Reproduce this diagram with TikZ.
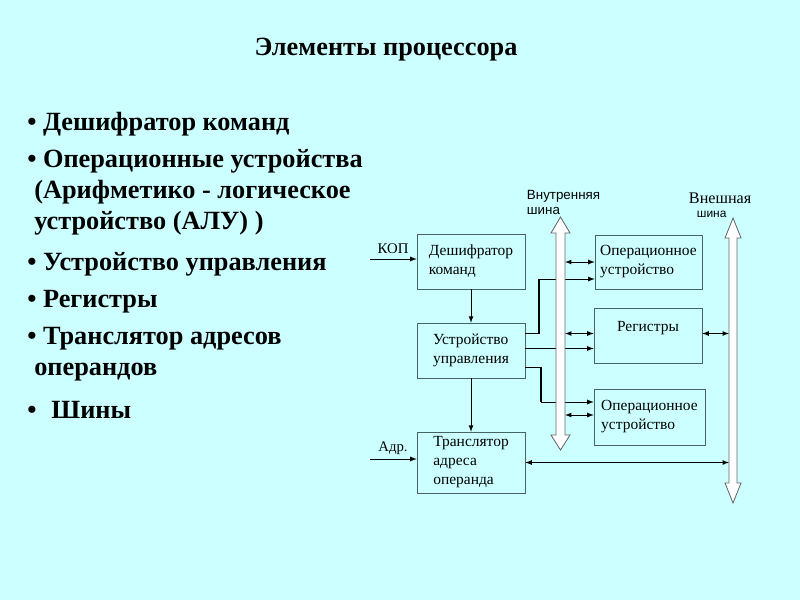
\documentclass[tikz,border=0pt]{standalone}
\usepackage{fontspec}
\setmainfont{Liberation Serif}
\setsansfont{Liberation Sans}
\usetikzlibrary{calc}
\definecolor{bgcyan}{RGB}{204,255,255}
\definecolor{boxline}{RGB}{70,100,100}

\begin{document}
\begin{tikzpicture}[x=0.025cm,y=-0.025cm,>=latex,
  box/.style={draw=boxline,align=left,inner sep=0pt,font=\fontsize{11}{13.5}\selectfont},
  item/.style={anchor=west,align=left,inner sep=0pt,font=\bfseries\fontsize{18.7}{22}\selectfont},
  wire/.style={line width=0.6pt},
  ctl/.style={line width=1.2pt},
  bus/.style={draw=black!60,fill=white,line width=0.6pt}]
\fill[bgcyan] (0,0) rectangle (800,600);
\node[font=\bfseries\fontsize{18.7}{22}\selectfont] (title) at (386,50) {Элементы процессора};
% list
\node[item] (i1) at (27,124) {• Дешифратор команд};
\node[item] (i2) at (27,192) {• Операционные устройства\\\hspace*{5pt}(Арифметико - логическое\\\hspace*{5pt}устройство (АЛУ) )};
\node[item] (i3) at (27,264) {• Устройство управления};
\node[item] (i4) at (27,302) {• Регистры};
\node[item] (i5) at (27,354) {• Транслятор адресов\\\hspace*{5pt}операндов};
\node[item] (i6) at (27,410) {•\hspace{6pt} Шины};
% blocks
\node[box,minimum width=2.7cm,minimum height=1.375cm] (dec) at (471,261.5) {Дешифратор\\команд};
\node[box,minimum width=2.7cm,minimum height=1.375cm] (uu) at (471,350.5) {Устройство\\управления};
\node[box,minimum width=2.7cm,minimum height=1.525cm] (tr) at (471,462.5) {Транслятор\\адреса\\операнда};
\node[box,minimum width=2.675cm,minimum height=1.35cm] (opa) at (648.5,262) {Операционное\\устройство};
\node[box,minimum width=2.7cm,minimum height=1.375cm] (reg) at (648,335.5) {Регистры\\\phantom{x}};
\node[box,minimum width=2.775cm,minimum height=1.4cm] (opb) at (649.5,417) {Операционное\\устройство};
% labels
\node[font=\fontsize{10.5}{12}\selectfont] (kop) at (393,249) {КОП};
\node[font=\fontsize{10.5}{12}\selectfont] (adr) at (393,448) {Адр.};
\node[anchor=west,align=left,font=\sffamily\fontsize{9.5}{10.7}\selectfont] (ibl) at (522,202.5) {Внутренняя\\шина};
\node[anchor=west,font=\fontsize{11.5}{13}\selectfont] (ebl) at (684,198) {Внешная};
\node[anchor=west,font=\sffamily\fontsize{8.5}{10}\selectfont] (ebs) at (692,214) {шина};
% connectors
\coordinate (kopin) at (370,259);
\coordinate (adrin) at (370,459);
\coordinate (ib) at (565,0);
\coordinate (eb) at (729,0);
\coordinate (ja) at (539,279);
\coordinate (jb) at (541,402);
\draw[wire,->] (kopin) -- (kopin -| dec.west);
\draw[wire,->] (adrin) -- (adrin -| tr.west);
\draw[wire,->] (dec) -- (uu);
\draw[wire,->] (uu) -- (tr);
\draw[wire,<->] (opa.west) -- (opa.west -| ib);
\draw[ctl] ($(uu.east)+(0,-17)$) -| (ja);
\draw[wire,->] (ja) -- (ja -| opa.west);
\draw[wire,<->] ($(reg.west)+(0,-2)$) -- ($(reg.west -| ib)+(0,-2)$);
\draw[wire,->] ($(uu.east)+(0,-2)$) -- ($(uu.east -| reg.west)+(0,-2)$);
\draw[ctl] ($(uu.east)+(0,17)$) -| (jb);
\draw[wire,->] (jb) -- (jb -| opb.west);
\draw[wire,<->] ($(opb.west)+(0,-2)$) -- ($(opb.west -| ib)+(0,-2)$);
\draw[wire,<->] ($(reg.east)+(0,-2)$) -- ($(reg.east -| eb)+(0,-2)$);
\draw[wire,<->] (tr.east) -- (tr.east -| eb);
% buses
\draw[bus] (556,233) -- (551,233) -- (560.5,217) -- (570,233) -- (565,233) -- (565,435) -- (570,435) -- (560.5,450) -- (551,435) -- (556,435) -- cycle;
\draw[bus] (729,238) -- (725,238) -- (733,218) -- (741,238) -- (737,238) -- (737,483) -- (741,483) -- (733,503) -- (725,483) -- (729,483) -- cycle;
\end{tikzpicture}
\end{document}
